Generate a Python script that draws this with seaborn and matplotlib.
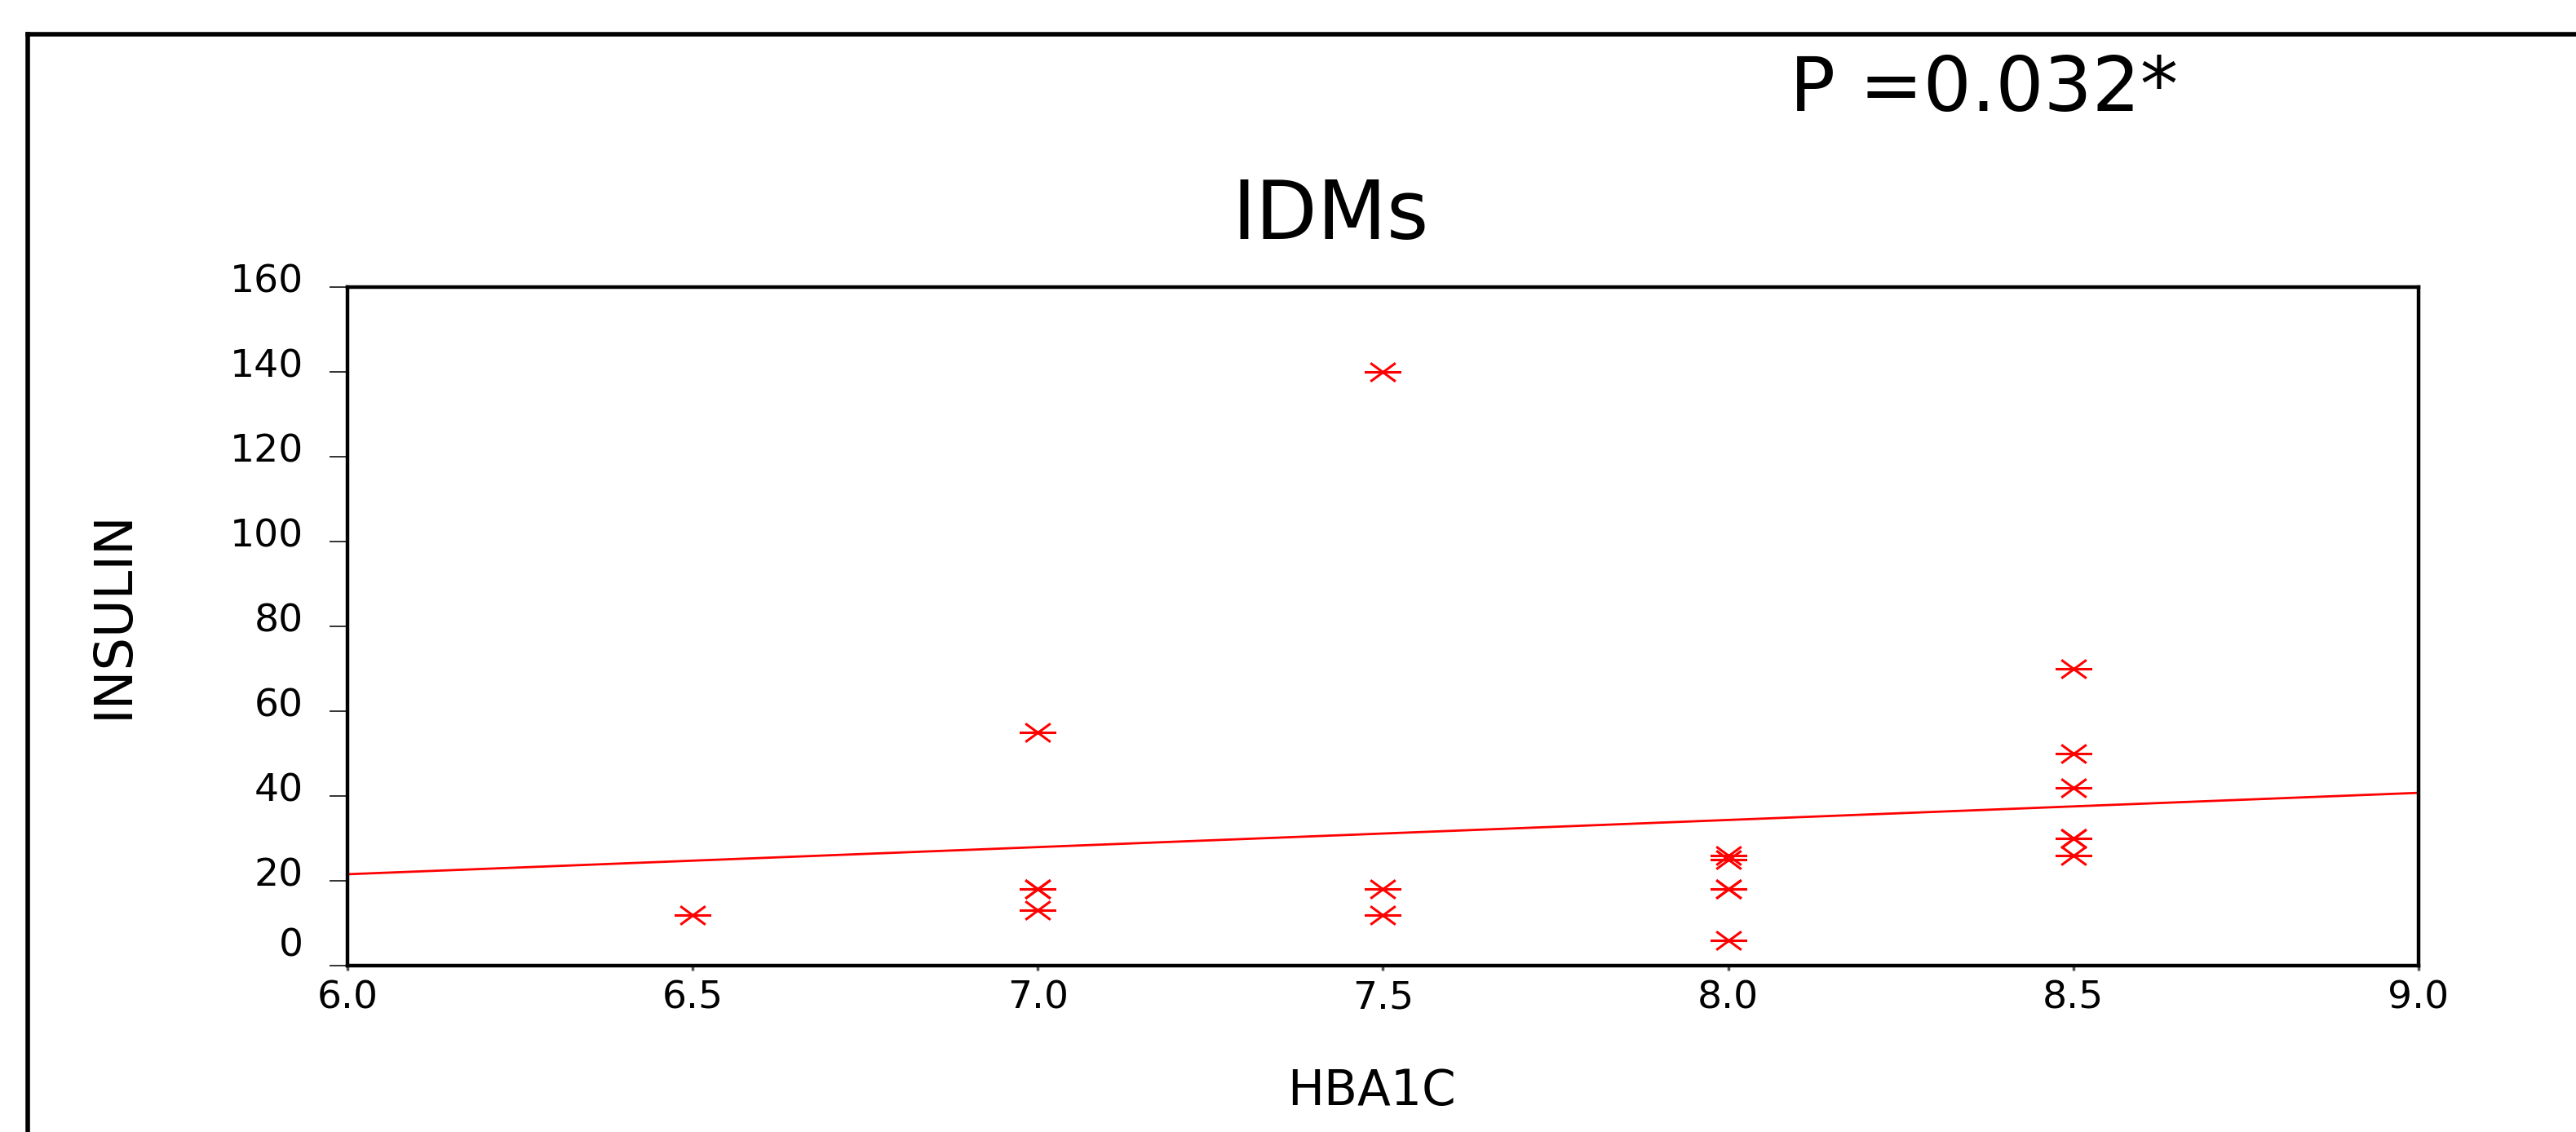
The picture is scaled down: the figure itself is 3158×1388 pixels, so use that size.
import numpy as np
import pandas as pd
import matplotlib
matplotlib.use("Agg")
import matplotlib.pyplot as plt
from matplotlib.path import Path
from matplotlib.lines import Line2D
from matplotlib.transforms import ScaledTranslation
import seaborn as sns

# IDMs group: HBA1C against INSULIN
hba1c = [6.5,
         7.0, 7.0, 7.0, 7.0,
         7.5, 7.5, 7.5,
         8.0, 8.0, 8.0, 8.0, 8.0,
         8.5, 8.5, 8.5, 8.5, 8.5, 8.5]
insulin = [12,
           55, 18, 18, 13,
           140, 18, 12,
           26, 25, 18, 18, 6,
           70, 50, 42, 30, 30, 26]

x_ticks = [6.0, 6.5, 7.0, 7.5, 8.0, 8.5, 9.0]
x_labels = ["6.0", "6.5", "7.0", "7.5", "8.0", "8.5", "9.0"]
y_ticks = [0, 20, 40, 60, 80, 100, 120, 140, 160]
y_labels = ["0", "20", "40", "60", "80", "100", "120", "140", "160"]

title = "IDMs"
p_text = "P =0.032*"

df = pd.DataFrame({"HBA1C": hba1c, "INSULIN": insulin})

sns.set_style("white")
plt.rcParams["font.family"] = ["DejaVu Sans"]
plt.rcParams["text.color"] = "black"

W, H = 3158, 1388
fig = plt.figure(figsize=(W / 100, H / 100), dpi=100)
fig.patch.set_facecolor("white")

# axes box in pixels: left 426, right 2965, top 352, bottom 1184
ax = fig.add_axes([426 / W, 1 - 1184 / H, (2965 - 426) / W, (1184 - 352) / H])
ax.set_xlim(6, 9)
ax.set_ylim(0, 160)

# SPSS style asterisk (wide, flat)
star = Path([(-1, 0), (1, 0), (-0.68, 0.5), (0.68, -0.5), (-0.68, -0.5), (0.68, 0.5)],
            [Path.MOVETO, Path.LINETO] * 3)

sns.regplot(data=df, x="HBA1C", y="INSULIN", ax=ax, ci=None, truncate=False,
            marker=star, color="red",
            scatter_kws=dict(s=1050, linewidths=2.2, alpha=1),
            line_kws=dict(lw=2.0))

ax.set_xlim(6, 9)
ax.set_ylim(0, 160)
ax.set_xticks(x_ticks)
ax.set_xticklabels(x_labels)
ax.set_yticks(y_ticks)
ax.set_yticklabels(y_labels)

for s in ax.spines.values():
    s.set_visible(True)
    s.set_color("black")
    s.set_linewidth(3.2)

ax.tick_params(axis="y", direction="out", length=16, width=1.4, color="#333333",
               pad=23, labelsize=34, labelcolor="black", left=True)
ax.tick_params(axis="x", direction="out", length=4.5, width=2.5, color="#555555",
               pad=8, labelsize=34, labelcolor="black", bottom=True)

# y tick labels sit a little above their ticks, the 0 more so
for val, lab in zip(y_ticks, ax.get_yticklabels()):
    dy = 29 if val == 0 else 11
    lab.set_transform(lab.get_transform() + ScaledTranslation(0, dy / 100, fig.dpi_scale_trans))

ax.set_xlabel("HBA1C", fontsize=43, color="black")
ax.xaxis.set_label_coords((1682 - 426) / 2539, (1184 - 1339) / 832)
ax.xaxis.label.set_va("center")
ax.set_ylabel("INSULIN", fontsize=46, color="black")
ax.yaxis.set_label_coords((139 - 426) / 2539, (1184 - 753) / 832)
ax.yaxis.label.set_va("center")

ax.set_title(title, fontsize=71, x=(1631 - 426) / 2539, y=(1184 - 266) / 832,
             va="center", pad=0, color="black")
fig.text(2432 / W, 1 - 110 / H, p_text, fontsize=67, ha="center", va="center",
         color="black")

# outer frame (left and top edges only show)
fig.add_artist(Line2D([34 / W, 34 / W], [0, 1 - 42 / H], transform=fig.transFigure,
                      color="black", lw=4, solid_capstyle="projecting"))
fig.add_artist(Line2D([34 / W, 1], [1 - 42 / H, 1 - 42 / H], transform=fig.transFigure,
                      color="black", lw=4, solid_capstyle="projecting"))

fig.savefig("out.png", dpi=100, facecolor="white")
